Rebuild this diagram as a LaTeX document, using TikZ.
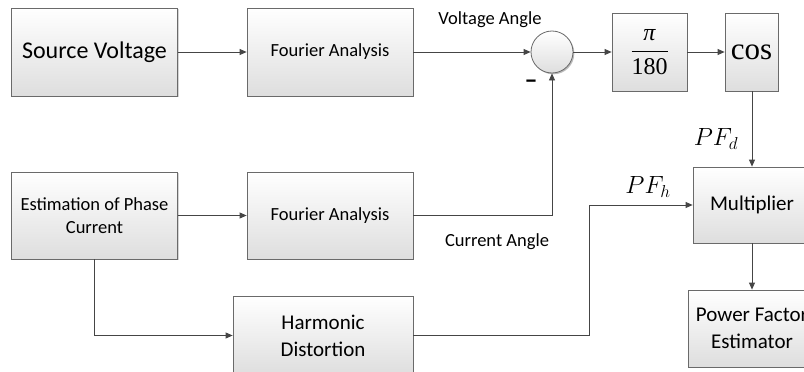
\documentclass[tikz,border=0pt]{standalone}
\usepackage{fontspec}
\setmainfont{Carlito}
\newfontfamily\tnr{Liberation Serif}
\usetikzlibrary{arrows.meta,shadows,calc}
\definecolor{edge}{HTML}{6A6A6A}
\definecolor{wire}{HTML}{454545}
\tikzset{
  blk/.style={draw=edge, line width=0.8pt, top color=white, bottom color=black!13,
    inner sep=0pt, align=center,
    drop shadow={shadow xshift=1.4pt, shadow yshift=-1.4pt, opacity=0.3, fill=black!55}},
  wirearrow/.style={draw=wire, line width=0.8pt, -{Triangle[length=7pt,width=6pt]}},
  fmed/.style={font=\fontsize{18.5}{23}\selectfont},
  fbig/.style={font=\fontsize{21}{27}\selectfont},
  lbl/.style={inner sep=0pt},
}
\begin{document}
\begin{tikzpicture}[x=1pt,y=-1pt]
\useasboundingbox (0,0) rectangle (804,372);
\clip (0,0) rectangle (804,372);
% top row
\node[blk, minimum width=166pt, minimum height=88pt, font=\fontsize{24}{28}\selectfont] (sv) at (94.5,52) {Source Voltage};
\node[blk, fmed, minimum width=166pt, minimum height=88pt] (fa1) at (330,52) {Fourier Analysis};
\node[blk, circle, minimum size=42pt, drop shadow={shadow xshift=1.2pt, shadow yshift=-1.2pt, opacity=0.3}] (sum) at (552,52) {};
\node[blk, minimum width=75pt, minimum height=78pt] (pi) at (649.5,52)
  {\fontsize{24}{28}\selectfont $\displaystyle\frac{\mbox{\tnr\itshape π}}{\mbox{\tnr 180}}$};
\node[blk, minimum width=53pt, minimum height=78pt] (cos) at (751.5,52) {\tnr\fontsize{31}{34}\selectfont cos};
% right column
\node[blk, fbig, minimum width=118pt, minimum height=76pt] (mult) at (752,205) {Multiplier};
\node[blk, fbig, minimum width=128pt, minimum height=77pt] (pfe) at (752,328.5) {Power Factor\\Estimator};
% bottom rows
\node[blk, fmed, minimum width=166pt, minimum height=87pt] (est) at (94.5,215.5) {Estimation of Phase\\Current};
\node[blk, fmed, minimum width=166pt, minimum height=87pt] (fa2) at (330,215.5) {Fourier Analysis};
\node[blk, fbig, minimum width=180pt, minimum height=79pt] (hd) at (323,335.5) {Harmonic\\Distortion};
% labels
\node[lbl, fmed] (va) at (490,20) {Voltage Angle};
\node[lbl, fmed] (ca) at (497,242) {Current Angle};
\node[lbl, font=\bfseries\fontsize{26}{28}\selectfont] (minus) at (531,84) {–};
\node[lbl, font=\fontsize{23}{26}\selectfont] (pfd) at (716,139) {$PF_d$};
\node[lbl, font=\fontsize{23}{26}\selectfont] (pfh) at (648,187) {$PF_h$};
\coordinate (bend) at (589,206);
% connectors
\draw[wirearrow] (sv.east) -- (fa1.west);
\draw[wirearrow] (fa1.east) -- (sum.west);
\draw[wirearrow] (sum.east) -- (pi.west);
\draw[wirearrow] (pi.east) -- (cos.west);
\draw[wirearrow] (cos.south -| mult.north) -- (mult.north);
\draw[wirearrow] (mult.south) -- (pfe.north);
\draw[wirearrow] (est.east) -- (fa2.west);
\draw[wirearrow] (fa2.east) -| (sum.south);
\draw[wirearrow] (est.south) |- (hd.west);
\draw[wirearrow] (hd.east) -- (hd.east -| bend) -- (bend |- mult.west) -- (mult.west);
\end{tikzpicture}
\end{document}
